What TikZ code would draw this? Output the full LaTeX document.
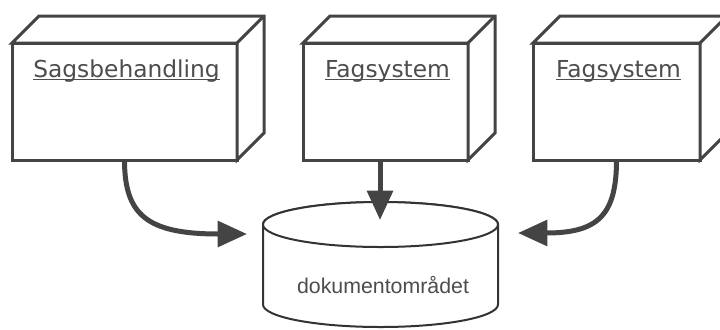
\documentclass[tikz,border=0pt]{standalone}
\usepackage{fontspec}
\setmainfont{DejaVu Sans}
\newfontfamily\dokfont{Liberation Sans}
\usetikzlibrary{arrows.meta}
\definecolor{linegray}{HTML}{444444}
\definecolor{textgray}{HTML}{4D4D4D}
% underlined unit name
\newcommand{\ulabel}[1]{\setbox0\hbox{#1}\rlap{\rule[-2.3pt]{\wd0}{0.9pt}}\box0}

\begin{document}
\begin{tikzpicture}[x=0.75pt,y=-0.75pt,
  unit/.style={draw=linegray,line width=2.25pt,fill=white,inner sep=0pt,
    outer sep=0pt,anchor=north west,minimum height=87.75pt},
  face/.style={draw=linegray,line width=2.25pt,fill=white},
  unitname/.style={anchor=base,text=textgray,inner sep=0pt,xshift=1.5pt,
    font=\fontsize{17.5}{21}\selectfont},
  store/.style={draw=black!80,line width=1.5pt,fill=white},
  flow/.style={draw=linegray,line width=3.75pt,-{Triangle[length=22pt,width=19pt]}}]
   \useasboundingbox (0,0) rectangle (720,329);
   \clip (0,0) rectangle (720,329);
   % front faces
   \node[unit,minimum width=168.75pt] (sag) at (12,43) {};
   \node[unit,minimum width=123.75pt] (fagA) at (303,43) {};
   \node[unit,minimum width=125.25pt] (fagB) at (533,43) {};
   % top and side faces
   \foreach \u in {sag,fagA,fagB}{
     \draw[face] (\u.north west) -- ++(20.25pt,20.25pt)
       -- ([shift={(20.25pt,20.25pt)}]\u.north east)
       -- ([shift={(20.25pt,20.25pt)}]\u.south east)
       -- (\u.south east) -- (\u.north east) -- cycle;
     \draw[face] (\u.north east) -- ++(20.25pt,20.25pt);
   }
   \node[unitname] (sagname) at ([yshift=-25.5pt]sag.north) {\ulabel{Sagsbehandling}};
   \node[unitname] (fagAname) at ([yshift=-25.5pt]fagA.north) {\ulabel{Fagsystem}};
   \node[unitname] (fagBname) at ([yshift=-25.5pt]fagB.north) {\ulabel{Fagsystem}};
   % storage
   \coordinate (dtop) at (380.5,224.5);
   \draw[store] (263,224.5) -- (263,304.5)
     arc[start angle=180,end angle=360,x radius=88.125pt,y radius=16.875pt]
     -- (498,224.5)
     arc[start angle=0,end angle=180,x radius=88.125pt,y radius=16.875pt] -- cycle;
   \draw[store] (dtop) ellipse [x radius=88.125pt,y radius=16.875pt];
   \node[anchor=base,inner sep=0pt,text=textgray,font=\dokfont\fontsize{16}{19}\selectfont]
     (dok) at (383,293) {dokumentområdet};
   % flows
   \coordinate (inL) at (247,234);
   \coordinate (inM) at (380,220);
   \coordinate (inR) at (518,233);
   \draw[flow] (sag.south) .. controls +(0,-41.25pt) and +(-75pt,0) .. (inL);
   \draw[flow] (fagA.south -| inM) -- (inM);
   \draw[flow] (fagB.south) .. controls +(0,-41.25pt) and +(60pt,0) .. (inR);
\end{tikzpicture}
\end{document}
